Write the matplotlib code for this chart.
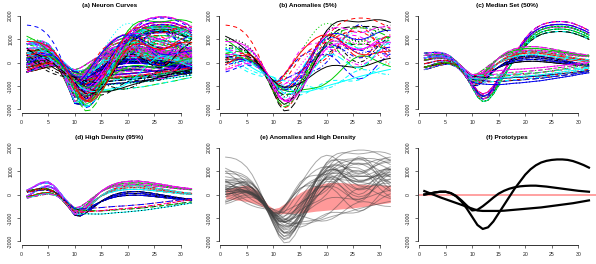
import numpy as np
import matplotlib
matplotlib.use("Agg")
from matplotlib import pyplot as plt
from itertools import product

plt.rcParams["font.family"] = ["Liberation Sans", "DejaVu Sans"]
plt.rcParams["lines.scale_dashes"] = False

x = np.arange(1, 33)

# prototypes
proto_a = np.array([0, 40, 90, 120, 120, 60, -60, -250, -470, -680, -650, -500, -320, -130, 40, 160,
                    250, 310, 350, 370, 380, 380, 360, 340, 310, 280, 250, 220, 190, 160, 140, 120])
proto_b = np.array([0, 40, 90, 120, 120, 60, -80, -300, -600, -950, -1300, -1470, -1400, -1150, -800, -450,
                    -100, 250, 550, 850, 1080, 1250, 1370, 1440, 1480, 1500, 1500, 1480, 1430, 1350, 1260, 1150])
proto_c = np.array([150, 60, -30, -120, -200, -280, -360, -440, -520, -600, -680, -700, -700, -700, -700, -690,
                    -670, -650, -630, -610, -590, -570, -550, -520, -490, -460, -430, -400, -370, -330, -290, -250])
# A-like start, C-like tail (lower branch in panels c/d)
proto_d = np.array([0, 40, 90, 120, 120, 60, -60, -250, -470, -680, -700, -700, -690, -680, -670, -650,
                    -630, -610, -600, -580, -560, -540, -520, -490, -460, -430, -400, -370, -340, -300, -270, -240])
# shape components seen in the spread of the curves
early = np.array([1000, 950, 870, 760, 630, 480, 320, 160, 40] + [0] * 23)
bump = np.array([40, 120, 220, 300, 330, 280, 170, 60] + [0] * 24)
late = np.array([0] * 9 + [100, 300, 500, 700, 850, 950] + [1000] * 17)
wiggle = np.array([0] * 15 + [100, 250, 400, 500, 500, 400, 200, -50, -300, -500, -600, -550, -400,
                              -150, 100, 300, 450])
protos = {"A": proto_a, "B": proto_b, "C": proto_c, "D": proto_d}

# band of the high density region, panel (e)
band_hi = [230, 280, 330, 380, 400, 330, 150, -150, -450, -600, -550, -400, -250, -80, 80, 200,
           300, 380, 450, 500, 520, 520, 510, 490, 470, 450, 440, 430, 420, 410, 400, 390]
band_lo = [-170, -200, -230, -260, -300, -350, -420, -520, -650, -780, -820, -820, -810, -800, -790, -770,
           -740, -710, -690, -670, -650, -630, -610, -590, -570, -540, -510, -470, -430, -400, -370, -340]

# groups: prototype, amplitudes, early, bump, late weights
median_groups = [
    ("B", [0.95, 1.02, 1.1], [-0.3, -0.05, 0.2, 0.4], [0], [-0.1, 0.1]),
    ("A", [0.8, 1.0, 1.2, 1.4], [-0.2, 0.1, 0.3], [0], [-0.25, -0.05, 0.15]),
    ("D", [0.8, 1.0, 1.2], [-0.2, 0.2], [0], [-0.15, 0.0, 0.2]),
]
dense_groups = [
    ("A", [0.85, 1.05, 1.25], [-0.1, 0.15], [0, 0.9], [-0.35, -0.1, 0.1]),
    ("D", [0.9, 1.1], [-0.15, 0.1], [0], [-0.1, 0.05]),
]
wide_groups = [
    ("A", [0.5, 0.9, 1.3, 1.7, 2.1, 2.5], [-0.4, 0.0, 0.4, 0.8], [0], [-0.5, -0.1, 0.3]),
    ("B", [0.75, 0.9, 1.05, 1.2], [-0.4, 0.1, 0.6], [0], [-0.2, 0.15]),
    ("D", [0.6, 1.0, 1.4], [-0.4, 0.3], [0], [-0.3, 0.1]),
]
# anomalies: weights on A, B, C, early, wiggle, late
anomalies = [
    (0.0, 1.25, 0.0, 0.0, 0.4, 0.1), (0.0, 1.3, 0.0, 1.6, 0.0, -0.05), (1.6, 0.2, -0.6, 0.3, 0.9, 0.1),
    (0.0, 0.7, 0.3, 0.2, -1.0, 0.1), (0.8, 0.5, 0.0, 0.5, 0.6, 0.0), (0.0, 0.9, 0.3, 0.3, 0.8, -0.2),
    (0.3, 0.7, 0.1, 0.0, 0.0, -0.3), (1.5, 0.0, -0.3, -0.2, -0.8, 0.0), (0.0, 0.8, 0.3, 0.6, 0.5, 0.0),
    (0.6, 0.0, 0.6, 0.2, 1.0, 0.0), (-0.6, 0.2, 1.4, 0.4, 0.0, -0.1), (2.0, 0.0, -0.7, 0.3, -0.5, -0.05),
    (0.0, 1.0, 0.0, 1.0, 1.0, 0.0), (0.7, 0.5, 0.0, 0.0, -1.0, 0.0), (0.3, 1.1, 0.0, 0.4, 0.0, -0.25),
    (0.0, 0.75, 0.2, 0.1, 0.6, 0.3), (-0.8, 0.3, 1.6, 0.0, 0.4, 0.0), (1.0, 0.4, -0.2, -0.3, 0.3, 0.0),
    (0.0, 0.8, 0.4, 0.7, 1.2, -0.3), (0.5, 0.6, 0.0, 0.1, 1.2, -0.1), (-0.5, 0.4, 1.2, 0.8, -0.6, 0.0),
    (1.2, 0.0, 0.0, -0.4, 0.0, 0.2), (0.0, 0.9, 0.2, 0.0, -0.3, -0.1), (0.4, 0.3, 0.4, 0.5, 0.8, 0.0),
    (0.0, 1.3, 0.0, 0.2, 0.2, -0.3), (1.8, 0.0, -0.6, 0.0, 0.5, -0.1), (0.0, 0.5, 0.6, 0.3, 1.3, 0.0),
    (0.9, 0.6, -0.3, 0.6, 0.8, -0.4), (-0.3, 0.0, 1.4, 0.1, -0.5, 0.1), (0.2, 1.05, 0.0, -0.3, 0.6, 0.0),
    (0.0, 0.3, 0.8, 1.0, 0.3, -0.1), (1.3, 0.3, -0.4, 0.2, -0.4, 0.1), (0.0, 1.1, 0.1, 0.1, 0.9, -0.2),
    (0.6, 0.5, 0.0, -0.1, 0.7, -0.3), (-0.4, 0.6, 0.9, 0.4, 1.0, 0.0), (0.0, 0.95, 0.0, 0.9, 0.6, -0.5),
]

titles = ["(a) Neuron Curves", "(b) Anomalies (5%)", "(c) Median Set (50%)",
          "(d) High Density (95%)", "(e) Anomalies and High Density", "(f) Prototypes"]

r_cols = ["black", "red", "#00CD00", "blue", "cyan", "magenta"]
r_ltys = ["-", (0, (3, 2.5)), (0, (0.8, 1.6)), (0, (0.8, 1.6, 3, 1.6)), (0, (5, 2))]


def build(groups):
    out = []
    for name, amps, es, ks, ls in groups:
        for amp, e, k, l in product(amps, es, ks, ls):
            out.append(amp * protos[name] + e * early + k * bump + l * late)
    return out


anom_curves = [a * proto_a + b * proto_b + c * proto_c + e * early + w * wiggle + l * late
               for a, b, c, e, w, l in anomalies]
median_curves = build(median_groups)
dense_curves = build(dense_groups)
all_curves = build(wide_groups) + median_curves + dense_curves + anom_curves


def matplot(ax, curves, lw=0.7):
    for i, y in enumerate(curves):
        ax.plot(x, y, color=r_cols[i % 6], linestyle=r_ltys[i % 5], linewidth=lw)


W, H = 596, 264
fig = plt.figure(figsize=(W / 100, H / 100), dpi=100)
axes = []
for i in range(2):
    for j in range(3):
        left = 198.67 * j + 20.4
        top = 132 * i + 12.0
        ax = fig.add_axes([left / W, 1 - (top + 101.1) / H, 177.8 / W, 101.1 / H])
        axes.append(ax)

matplot(axes[0], all_curves)
matplot(axes[1], anom_curves)
matplot(axes[2], median_curves)
matplot(axes[3], dense_curves)

ax = axes[4]
for y in anom_curves:
    ax.plot(x, y, color=(0.25, 0.25, 0.25, 0.45), linewidth=0.7)
ax.fill_between(x, band_lo, band_hi, color=(1, 0, 0, 0.4), linewidth=0)

ax = axes[5]
ax.axhline(0, color=(1, 0, 0, 0.4), linewidth=1.3)
for p in [proto_a, proto_b, proto_c]:
    ax.plot(x, p, color="black", linewidth=1.6)

for ax, t in zip(axes, titles):
    ax.set_xlim(-0.24, 33.24)
    ax.set_ylim(-2160, 2160)
    ax.set_xticks([0, 5, 10, 15, 20, 25, 30])
    ax.set_yticks([-2000, -1000, 0, 1000, 2000])
    ax.set_yticklabels(["-2000", "-1000", "0", "1000", "2000"], rotation=90, va="center")
    ax.spines["top"].set_visible(False)
    ax.spines["right"].set_visible(False)
    ax.spines["left"].set_bounds(-2000, 2000)
    ax.spines["bottom"].set_bounds(0, 30)
    for s in ["left", "bottom"]:
        ax.spines[s].set_linewidth(0.7)
        ax.spines[s].set_color("#333333")
    ax.tick_params(length=2.2, width=0.5, labelsize=3.7, pad=3, color="#333333", labelcolor="#222222")
    ax.set_title(t, fontsize=4.6, fontweight="bold", pad=3.5)

fig.savefig("out.png", dpi=100)
